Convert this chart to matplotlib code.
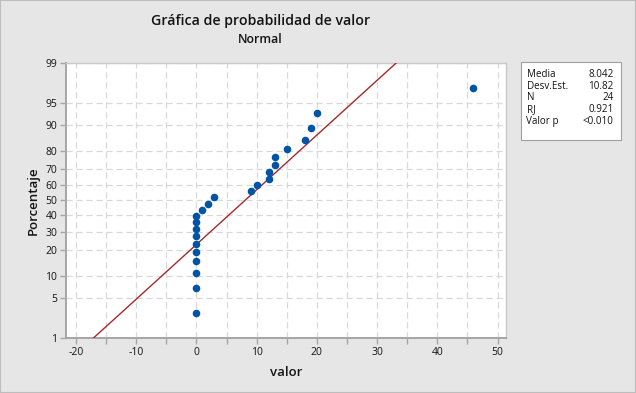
import numpy as np
import matplotlib
matplotlib.use("Agg")
import matplotlib.pyplot as plt
from matplotlib.patches import Rectangle
from matplotlib.ticker import FixedLocator, MultipleLocator
from statistics import NormalDist

valor = [0, 0, 0, 0, 0, 0, 0, 0, 0, 0, 1, 2, 3, 9, 10, 12, 12, 13, 13, 15, 18, 19, 20, 46]
pct_ticks = [1, 5, 10, 20, 30, 40, 50, 60, 70, 80, 90, 95, 99]
stat_labels = ["Media", "Desv.Est.", "N", "RJ", "Valor p"]
stat_values = ["8.042", "10.82", "24", "0.921", "<0.010"]

BLUE = "#0054a6"
RED = "#a52a2a"
GRID = "#d9d9d9"
AXC = "#a6a6a6"
TXT = "#141414"
plt.rcParams["font.family"] = ["Open Sans", "DejaVu Sans"]
plt.rcParams["axes.unicode_minus"] = False

nd = NormalDist()
_ppf = np.vectorize(lambda p: nd.inv_cdf(p), otypes=[float])
_cdf = np.vectorize(lambda z: nd.cdf(z), otypes=[float])


def fwd(p):
    p = np.clip(np.asarray(p, float), 1e-4, 100 - 1e-4)
    return _ppf(p / 100.0)


def inv(z):
    return _cdf(np.asarray(z, float)) * 100.0


x = np.sort(np.array(valor, float))
n = len(x)
ppos = (np.arange(1, n + 1) - 0.3) / (n + 0.4) * 100  # median ranks
mu, sd = x.mean(), x.std(ddof=1)

fig = plt.figure(figsize=(6.36, 3.93), dpi=100, facecolor="#e6e6e6")
fig.patches.append(Rectangle((0, 0), 1, 1, transform=fig.transFigure, fill=False,
                             edgecolor="#bdbdbd", lw=1.5))
ax = fig.add_axes([0.1033, 0.1392, 0.6923, 0.7013])
ax.set_yscale("function", functions=(fwd, inv))

# fitted normal line from 1% to 99%
xl = np.array([mu + sd * nd.inv_cdf(0.01), mu + sd * nd.inv_cdf(0.99)])
ax.plot(xl, inv((xl - mu) / sd), color=RED, lw=1.0, zorder=3)
ax.scatter(x, ppos, s=30, color=BLUE, zorder=4, linewidths=0)

ax.set_xlim(-21.7, 51.4)
ax.set_ylim(1, 99)
ax.yaxis.set_major_locator(FixedLocator(pct_ticks))
ax.yaxis.set_minor_locator(FixedLocator([]))
ax.set_yticklabels([str(t) for t in pct_ticks])
ax.xaxis.set_major_locator(MultipleLocator(10))
ax.xaxis.set_minor_locator(MultipleLocator(5))

ax.grid(True, which="major", axis="y", color=GRID, ls=(0, (5, 3)), lw=0.9)
ax.grid(True, which="both", axis="x", color=GRID, ls=(0, (5, 3)), lw=0.9)
ax.set_axisbelow(True)

for s in ["left", "bottom"]:
    ax.spines[s].set_color(AXC)
    ax.spines[s].set_linewidth(1.4)
for s in ["top", "right"]:
    ax.spines[s].set_color("#c8c8c8")
    ax.spines[s].set_linewidth(1.0)
ax.tick_params(which="both", color=AXC, labelsize=7.5, length=4, width=1, labelcolor=TXT, pad=2)

ax.set_xlabel("valor", fontsize=9.5, fontweight="semibold", color=TXT, labelpad=6)
ax.set_ylabel("Porcentaje", fontsize=9.5, fontweight="semibold", color=TXT, labelpad=4)

fig.text(0.409, 1 - 21.5 / 393, "Gráfica de probabilidad de valor", ha="center", va="center",
         fontsize=10.2, fontweight="semibold", color=TXT)
fig.text(0.409, 1 - 39.5 / 393, "Normal", ha="center", va="center",
         fontsize=8.8, fontweight="semibold", color=TXT)

# stats box
fig.patches.append(Rectangle((521 / 636, 1 - 140 / 393), 100 / 636, 78 / 393,
                             transform=fig.transFigure, facecolor="white", edgecolor="#a0a0a0", lw=0.8))
for i, (lab, val) in enumerate(zip(stat_labels, stat_values)):
    yy = 1 - (74.5 + i * 11.7) / 393
    fig.text(526.5 / 636, yy, lab, ha="left", va="center", fontsize=7.1, color=TXT)
    fig.text(613.5 / 636, yy, val, ha="right", va="center", fontsize=7.1, color=TXT)

fig.savefig("out.png", dpi=100, facecolor=fig.get_facecolor())
